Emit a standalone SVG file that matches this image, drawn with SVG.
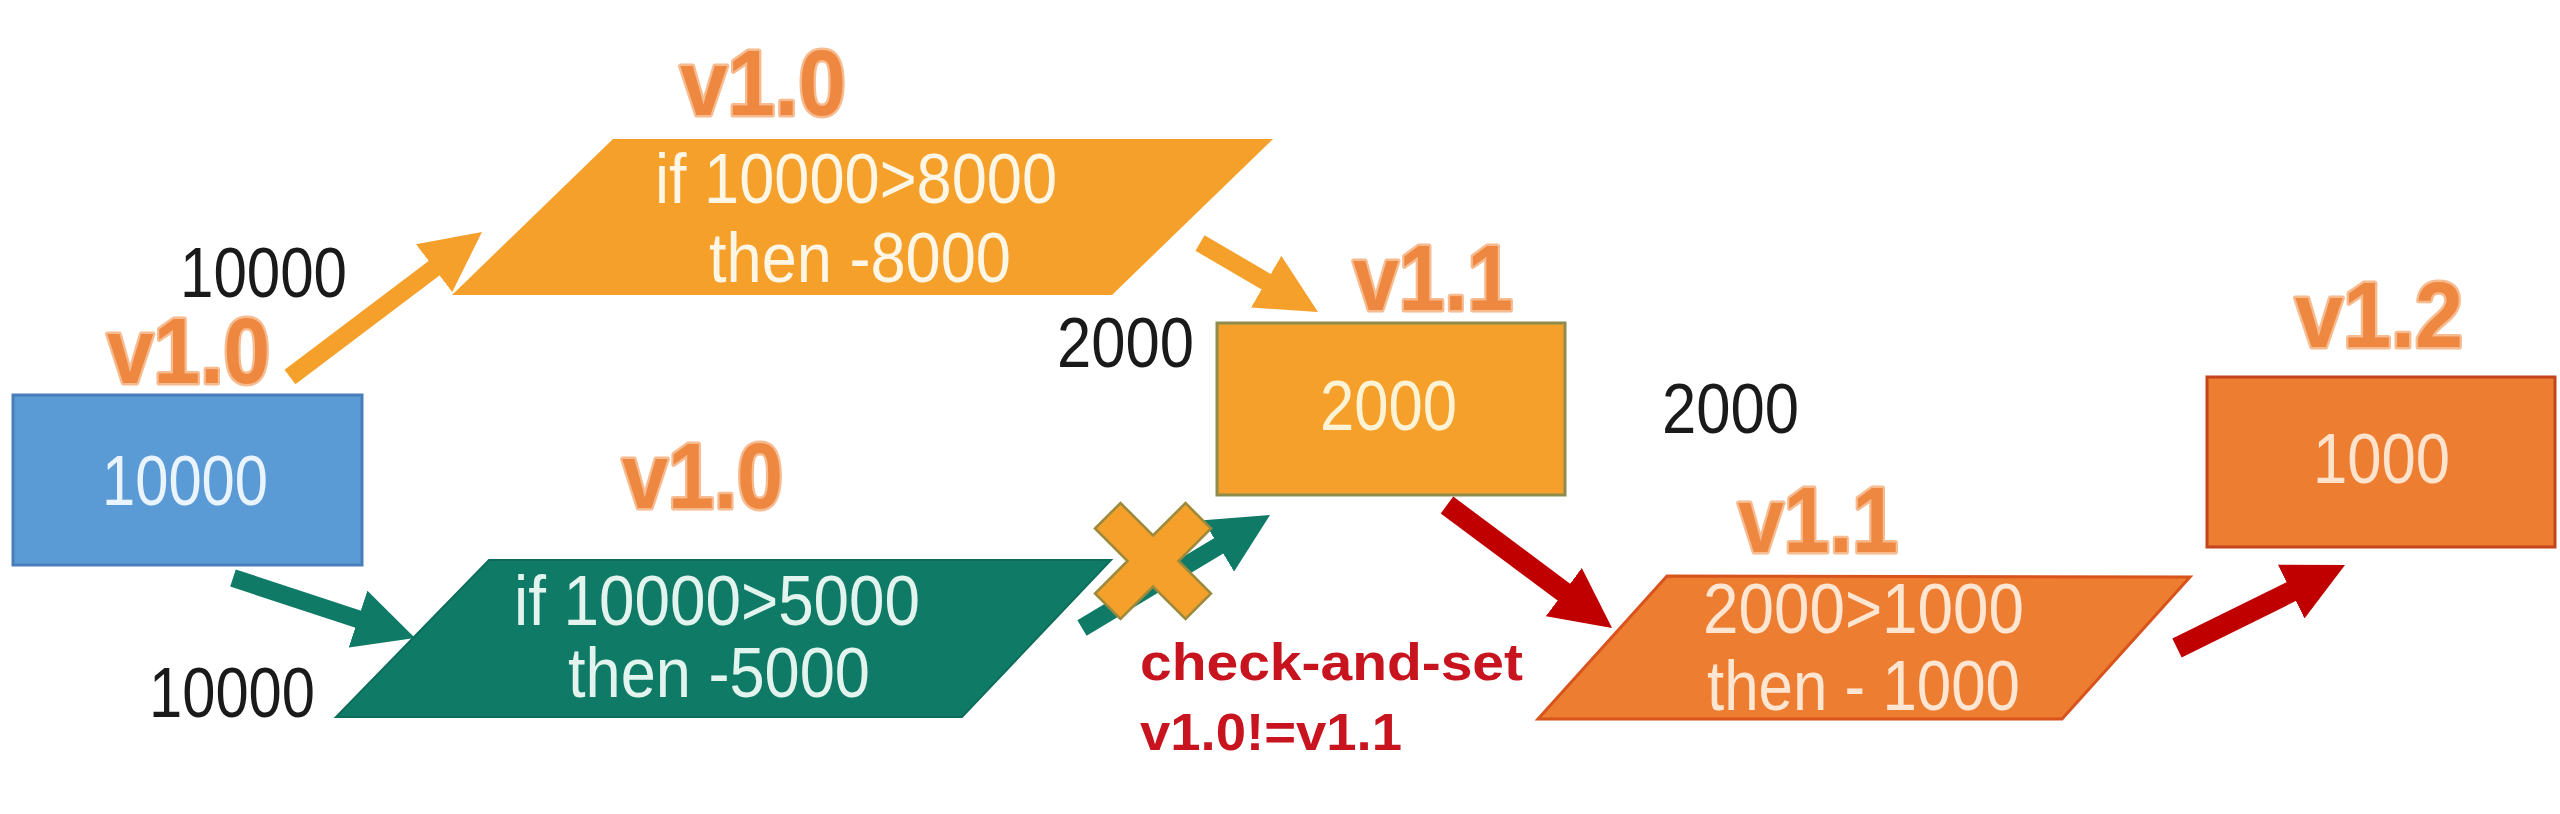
<svg xmlns="http://www.w3.org/2000/svg" width="2560" height="814" viewBox="0 0 2560 814">
<defs>
<style>
.t{font-family:"Liberation Sans",Arial,sans-serif;font-size:70px}
.blk{fill:#1a1a1a}
.ver{font-family:"Liberation Sans",Arial,sans-serif;font-weight:bold;font-size:92px;fill:#EE8740;stroke:#F7BB90;stroke-width:5;paint-order:stroke;stroke-linejoin:round}
.red{font-family:"Liberation Sans",Arial,sans-serif;font-weight:bold;font-size:52px;fill:#C8141E}
.ao{stroke:#F5A02A;stroke-width:18;fill:none}
.ag{stroke:#0F7B67;stroke-width:18;fill:none}
.ar{stroke:#C00000;stroke-width:21;fill:none}
</style>
<marker id="mo" viewBox="0 0 60 60" refX="2" refY="30" markerWidth="60" markerHeight="60" markerUnits="userSpaceOnUse" orient="auto"><path d="M0,0 L60,30 L0,60 z" fill="#F5A02A"/></marker>
<marker id="mg" viewBox="0 0 60 60" refX="2" refY="30" markerWidth="60" markerHeight="60" markerUnits="userSpaceOnUse" orient="auto"><path d="M0,0 L60,30 L0,60 z" fill="#0F7B67"/></marker>
<marker id="mr" viewBox="0 0 60 60" refX="2" refY="30" markerWidth="60" markerHeight="60" markerUnits="userSpaceOnUse" orient="auto"><path d="M0,0 L60,30 L0,60 z" fill="#C00000"/></marker>
</defs>
<rect width="2560" height="814" fill="#ffffff"/>

<g id="connectors">
<line class="ao" x1="290" y1="377" x2="435.7" y2="267" marker-end="url(#mo)"/>
<line class="ao" x1="1200" y1="243" x2="1267.9" y2="282.7" marker-end="url(#mo)"/>
<line class="ag" x1="233" y1="578" x2="359.9" y2="619.8" marker-end="url(#mg)"/>
<line class="ag" x1="1082" y1="628" x2="1220.3" y2="544.9" marker-end="url(#mg)"/>
<line class="ar" x1="1447" y1="505" x2="1565.5" y2="593.3" marker-end="url(#mr)"/>
<line class="ar" x1="2177" y1="648" x2="2293" y2="590.7" marker-end="url(#mr)"/>
</g>

<g id="node-start">
<rect x="13" y="395" width="349" height="170" fill="#5B9BD5" stroke="#4A7EBB" stroke-width="3"/>
<text class="t" x="102" y="505" textLength="166" lengthAdjust="spacingAndGlyphs" fill="#EAF4FF">10000</text>
<text class="ver" x="107" y="383" textLength="163" lengthAdjust="spacingAndGlyphs">v1.0</text>
<text class="t blk" x="180" y="297" textLength="167" lengthAdjust="spacingAndGlyphs">10000</text>
<text class="t blk" x="149" y="717" textLength="166" lengthAdjust="spacingAndGlyphs">10000</text>
</g>

<g id="node-tx1">
<polygon points="613,139 1273,139 1112,295 452,295" fill="#F5A02A"/>
<text class="ver" x="680" y="115" textLength="166" lengthAdjust="spacingAndGlyphs">v1.0</text>
<text class="t" x="655" y="203" textLength="402" lengthAdjust="spacingAndGlyphs" fill="#FFF6E6">if 10000&gt;8000</text>
<text class="t" x="709" y="282" textLength="302" lengthAdjust="spacingAndGlyphs" fill="#FFF6E6">then -8000</text>
</g>

<g id="node-tx2">
<polygon points="489,560 1111,560 962,717 336,717" fill="#0F7B67" stroke="#0D6D5B" stroke-width="2"/>
<text class="ver" x="622" y="508" textLength="161" lengthAdjust="spacingAndGlyphs">v1.0</text>
<text class="t" x="514" y="625" textLength="406" lengthAdjust="spacingAndGlyphs" fill="#E3F4EF">if 10000&gt;5000</text>
<text class="t" x="568" y="697" textLength="302" lengthAdjust="spacingAndGlyphs" fill="#E3F4EF">then -5000</text>
</g>

<g id="node-reject">
<polygon points="1095,528.5 1120.5,503 1153,535.5 1185.5,503 1211,528.5 1178.5,561 1211,593.5 1185.5,619 1153,586.5 1120.5,619 1095,593.5 1127.5,561" fill="#F5A02A" stroke="#9C8A3C" stroke-width="2.5" stroke-linejoin="miter"/>
<text class="red" x="1140" y="680" textLength="383" lengthAdjust="spacingAndGlyphs">check-and-set</text>
<text class="red" x="1140" y="750" textLength="262" lengthAdjust="spacingAndGlyphs">v1.0!=v1.1</text>
</g>

<g id="node-v11">
<rect x="1217" y="323" width="348" height="172" fill="#F5A02A" stroke="#8E8C4C" stroke-width="3"/>
<text class="ver" x="1353" y="310" textLength="160" lengthAdjust="spacingAndGlyphs">v1.1</text>
<text class="t" x="1320" y="430" textLength="137" lengthAdjust="spacingAndGlyphs" fill="#FFF3D6">2000</text>
<text class="t blk" x="1057" y="367" textLength="137" lengthAdjust="spacingAndGlyphs">2000</text>
<text class="t blk" x="1662" y="433" textLength="137" lengthAdjust="spacingAndGlyphs">2000</text>
</g>

<g id="node-tx3">
<polygon points="1667,576 2190,577 2062,719 1538,719" fill="#ED7D31" stroke="#D8541C" stroke-width="3"/>
<text class="ver" x="1738" y="552" textLength="160" lengthAdjust="spacingAndGlyphs">v1.1</text>
<text class="t" x="1703" y="633" textLength="321" lengthAdjust="spacingAndGlyphs" fill="#FFE6D2">2000&gt;1000</text>
<text class="t" x="1707" y="710" textLength="313" lengthAdjust="spacingAndGlyphs" fill="#FFE6D2">then - 1000</text>
</g>

<g id="node-v12">
<rect x="2207" y="377" width="348" height="170" fill="#ED7D31" stroke="#C4451C" stroke-width="3"/>
<text class="ver" x="2295" y="347" textLength="168" lengthAdjust="spacingAndGlyphs">v1.2</text>
<text class="t" x="2313" y="483" textLength="137" lengthAdjust="spacingAndGlyphs" fill="#FFE3CC">1000</text>
</g>
</svg>
